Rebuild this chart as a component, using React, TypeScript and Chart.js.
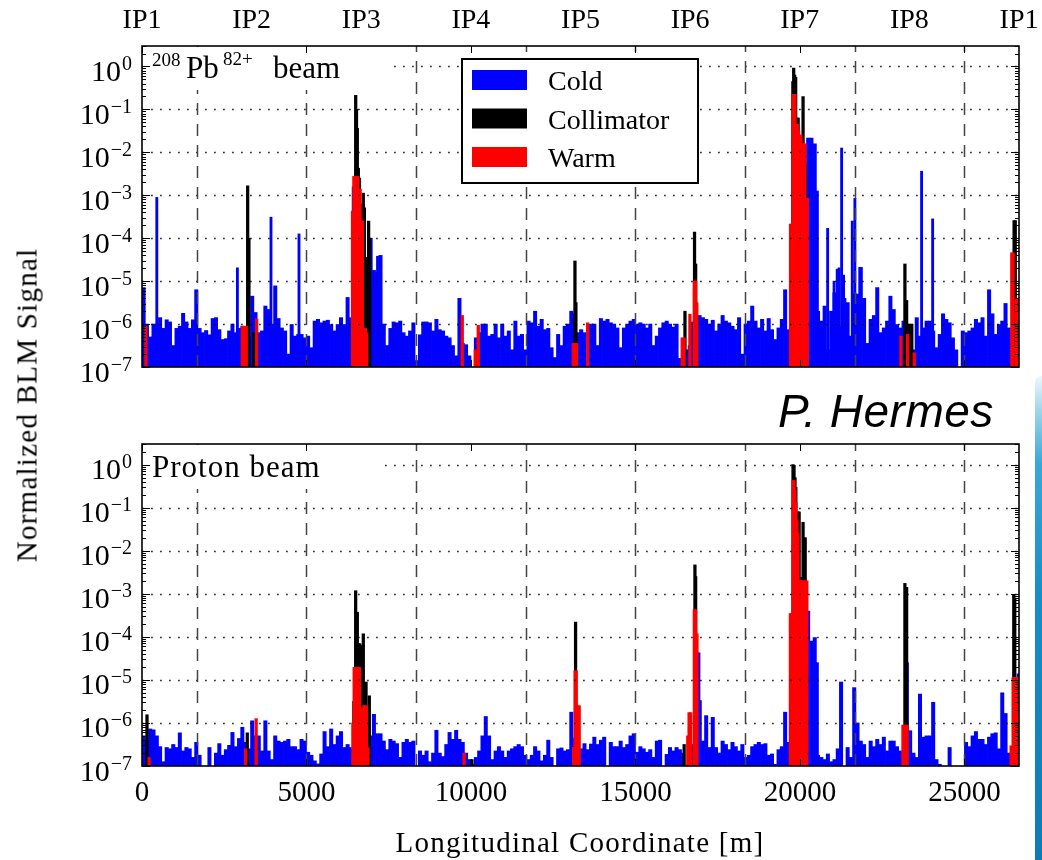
import React, { useEffect, useRef } from 'react';
import { Chart, registerables } from 'chart.js';

Chart.register(...registerables);

// ---------------- data ----------------
const RING_LENGTH = 26659; // m
const BIN_WIDTH = 100; // m, width of the baseline (cold) bins
const IP_POSITIONS = [0, 3332, 6665, 9997, 13330, 16662, 19994, 23327, 26659];
const IP_LABELS = ['IP1', 'IP2', 'IP3', 'IP4', 'IP5', 'IP6', 'IP7', 'IP8', 'IP1'];
const ARC_CENTRES = [1666, 4998, 8331, 11663, 14996, 18328, 21660, 24993];
const X_TICKS = [0, 5000, 10000, 15000, 20000, 25000];
const Y_DECADES = [-7, -6, -5, -4, -3, -2, -1, 0];
const Y_MIN = 1e-7;
const Y_MAX = 3;

// 208Pb82+ beam, cold BLMs, log10(signal) per 100 m bin (null = no signal)
const PB_COLD_LOG = [
  -5.15, -6.0, -6.3, -6.0, -6.0, -5.85, -6.1, -5.9, -5.95, -6.5,
  -6.1, -6.05, -5.75, -5.95, -6.1, -5.9, -5.2, -6.1, -6.2, -6.15,
  -6.25, -5.87, -5.85, -6.13, -6.36, -6.34, -6.16, -6.0, -6.2, -6.1,
  -6.05, -6.1, -6.3, -5.35, -5.73, -6.2, -6.16, -5.58, -5.66, -6.0,
  -5.11, -5.87, -6.09, -6.16, -6.7, -6.01, -6.28, -6.24, -6.24, -6.32,
  -6.28, -6.55, -5.93, -5.89, -5.97, -5.93, -5.91, -6.01, -6.16, -6.01,
  -5.85, -6.01, -5.38, -5.85, -6.2, -6.2, -6.2, -6.2, -6.2, -4.0,
  -4.75, -4.8, -4.4, -6.0, -6.5, -6.1, -5.95, -5.97, -5.93, -6.2,
  -6.28, -6.16, -5.97, -6.85, -6.25, -5.95, -5.95, -5.97, -6.16, -5.89,
  -6.13, -6.16, -6.28, -6.32, -6.5, -6.74, -5.4, -6.45, -6.48, -6.74,
  null, -6.32, -6.2, -6.0, -6.0, -6.28, -6.24, -6.0, -6.32, -6.0,
  -6.28, -6.16, -6.6, -5.93, -6.28, -6.24, -6.6, -5.93, -5.97, -5.7,
  -6.05, -5.89, -6.13, -6.1, -6.55, -6.78, -6.24, -6.5, -6.05, -6.0,
  -5.7, -5.76, -6.2, -6.13, -6.2, -6.25, -6.0, -6.0, -6.5, -5.87,
  -5.93, -5.89, -5.97, -6.0, -6.09, -6.55, -6.09, -6.0, -5.93, -5.89,
  -6.0, -5.97, -6.0, -6.09, -6.0, -6.5, -6.28, -6.09, -5.97, -5.93,
  -6.0, -6.07, -6.0, -6.8, -6.6, -6.6, -6.5, -5.95, -6.3, -5.8,
  -5.85, -5.89, -6.0, -5.91, -6.16, -6.0, -5.8, -5.93, -5.97, -6.05,
  -6.13, -5.85, -6.7, -6.0, -5.93, -5.58, -5.93, -6.09, -5.89, -6.16,
  -5.87, -6.13, -6.36, -6.09, -5.89, -5.2, -6.13, -6.3, -6.3, -6.3,
  -6.3, -6.3, -1.67, -1.67, -1.8, -5.7, -5.93, -5.58, -6.6, -5.7,
  -5.27, -4.72, -6.05, -5.4, -5.5, -6.28, -5.3, -5.3, -4.68, -5.4,
  -6.45, -5.89, -5.8, -5.15, -6.2, -6.09, -5.93, -5.35, -5.66, -6.01,
  -6.09, -5.93, -6.6, -6.6, -6.6, -5.85, -6.28, -6.09, -5.93, -5.93,
  -6.16, -6.55, -6.24, -5.76, -5.89, -5.97, -6.32, -6.6, null, -6.16,
  -6.2, -6.16, -6.09, -5.89, -5.97, -5.85, -6.28, -5.2, -5.76, -6.24,
  -6.01, -5.93, -5.52, -6.09, -6.16, -6.2, -6.0,
];
// isolated cold peaks [s (m), log10(signal)]
const PB_COLD_PEAKS = [
  [450, -3.05], [2900, -4.69], [3921, -3.51], [4772, -3.9], [6420, -2.8], [6945, -4.0],
  [7160, -4.42], [20530, -2.9], [20842, -3.77], [21037, -5.0], [21190, -4.69], [21267, -1.9],
  [21327, -4.86], [21590, -3.6], [21670, -3.07], [21820, -4.68], [23698, -2.44], [24034, -3.55],
];
const PB_COLLIMATOR = [
  [3212, -2.78], [3250, -4.0], [3400, -6.2], [3450, -6.3],
  [6400, -6.0], [6470, -3.0], [6496, -0.67], [6520, -1.0], [6545, -1.44], [6576, -2.37],
  [6610, -2.6], [6650, -3.2], [6690, -3.4], [6727, -2.95], [6760, -3.29], [6800, -4.46],
  [6840, -4.45], [6889, -3.6], [6920, -4.0],
  [13161, -4.53], [13190, -5.5], [16505, -5.7], [16796, -3.86], [16830, -4.6],
  [19785, -0.35], [19810, -0.04], [19840, -0.2], [19870, -0.25], [19910, -1.2], [19945, -1.2],
  [19990, -2.9], [20040, -2.9], [20095, -0.7], [20140, -2.05], [20170, -2.3],
  [23191, -4.6], [23243, -5.45], [23320, -6.0], [23400, -6.0], [26510, -3.59], [26545, -3.59],
];
const PB_WARM = [
  [120, -6.05], [3050, -6.05], [3120, -6.05], [3170, -6.05], [3486, -5.88],
  [6400, -3.37], [6440, -2.56], [6480, -2.56], [6520, -2.6], [6560, -2.56], [6600, -2.86],
  [6630, -2.86], [6670, -3.6], [6700, -3.6], [6750, -6.1], [6790, -6.1], [6830, -6.2],
  [9736, -5.8], [10130, -6.6], [10222, -6.03],
  [13110, -6.45], [13160, -6.45], [13210, -6.45], [13546, -5.97],
  [16420, -6.32], [16480, -6.32], [16655, -5.77], [16790, -5.0], [16830, -5.0], [16865, -5.5],
  [19715, -3.67], [19745, -3.67], [19790, -0.65], [19820, -0.65], [19850, -0.65], [19890, -1.35],
  [19925, -1.35], [19960, -1.5], [20000, -1.6], [20030, -1.6], [20070, -1.8], [20105, -1.8],
  [20150, -1.8], [20190, -3.07], [20225, -3.07],
  [23070, -6.28], [23273, -6.24], [23474, -6.67],
  [26440, -4.34], [26480, -4.34], [26580, -5.4], [26630, -5.4],
];

// Proton beam
const P_COLD_LOG = [
  -6.3, -6.4, -6.14, -6.16, -6.3, -6.55, -6.9, -6.57, -6.6, -6.5,
  -6.57, -6.23, -6.65, -6.57, -6.6, -6.8, -6.45, -6.75, null, null,
  -6.57, null, -6.7, -6.48, -6.75, -6.62, -6.52, -6.22, -6.55, -6.36,
  -6.1, -6.45, -6.6, -5.95, -6.3, -6.3, -6.65, -5.95, -6.65, -6.85,
  -6.3, -6.42, -6.45, -6.42, -6.38, -6.55, -6.55, -6.62, -6.38, -6.42,
  -6.68, -6.75, -6.88, -6.95, -6.72, -6.2, -6.55, -6.14, -6.5, -6.3,
  -6.2, -6.57, -6.5, -6.57, -6.6, -6.6, -6.6, -6.6, -6.3, -6.3,
  -5.8, -6.25, -6.25, -6.42, -6.62, -6.38, -6.42, -6.48, -6.8, -6.45,
  -6.38, -6.45, -6.42, null, -6.65, -6.75, -6.65, -6.9, -6.7, -6.17,
  -6.7, -6.78, -6.5, -6.22, -6.38, -6.17, -6.38, -6.45, -6.7, -6.85,
  -6.96, -6.8, -6.65, -6.3, -5.85, -6.3, -6.85, -6.65, -6.55, -6.65,
  -6.8, -6.65, -6.6, -6.55, -6.5, -6.55, -6.75, -6.85, -6.75, -6.55,
  -6.65, -6.88, -6.75, -6.4, -6.8, null, -6.6, -6.58, -6.65, -6.62,
  -5.75, -6.35, -6.6, -6.6, -6.48, -6.62, -6.49, -6.33, -6.5, -6.4,
  -6.33, null, -6.45, -6.55, -6.55, -6.42, -6.57, -6.5, -6.3, -6.25,
  -6.68, -6.55, -6.6, -6.68, -6.62, -6.8, -6.42, -6.4, null, -6.73,
  -6.57, -6.65, -6.57, -6.62, -6.7, null, -6.7, -6.5, -4.35, -5.48,
  -6.42, -5.83, -6.57, -5.87, -6.57, -6.7, -6.42, -6.5, -6.62, -6.45,
  -6.55, -6.65, -6.5, -6.8, -6.75, -6.55, -6.5, -6.45, -6.5, -6.48,
  -6.75, -6.72, -6.96, -6.62, -6.55, -5.75, -6.45, -6.5, -6.5, -6.5,
  -6.5, -6.5, -3.4, -4.1, -4.02, -6.75, -6.8, -6.85, -6.72, -6.9,
  -6.85, -6.6, -5.05, null, -6.57, -6.8, -5.18, -6.0, -6.42, -6.5,
  -6.8, -6.42, -6.55, -6.38, -6.5, -6.33, -6.65, -6.42, -6.42, -6.55,
  -6.65, -6.9, -4.6, -6.18, -6.7, -6.8, -5.33, -6.33, -6.3, -6.3,
  -5.52, -6.85, -6.96, null, null, -6.57, null, null, null, null,
  -6.45, -6.55, -6.3, -6.2, -6.38, -6.38, -6.5, -6.33, -6.25, -6.23,
  -6.6, -5.3, -5.78, -6.7, -6.6, -6.6, -4.86,
];
const P_COLD_PEAKS = [[16930, -4.37], [16960, -5.49], [20530, -4.6], [23230, -4.86]];
const P_COLLIMATOR = [
  [152, -5.81], [3200, -6.23],
  [6440, -5.5], [6495, -2.93], [6545, -3.43], [6580, -4.16], [6620, -4.16], [6660, -4.2],
  [6727, -3.93], [6778, -5.06], [6810, -5.05], [6860, -5.6], [6910, -5.37],
  [10030, -6.85], [13180, -3.66], [16480, -6.5], [16808, -2.33], [16830, -2.6],
  [19790, 0.0], [19820, -0.02], [19850, -0.3], [19875, -0.53], [19910, -1.1], [19945, -1.1],
  [19975, -1.1], [20020, -2.62], [20060, -2.62], [20095, -1.34], [20130, -1.7], [20160, -1.7],
  [23191, -2.76], [23243, -2.85], [26500, -3.03], [26530, -3.1],
];
const P_WARM = [
  [215, -6.8], [3150, -6.6], [3470, -5.9],
  [6410, -6.0], [6450, -4.71], [6490, -4.71], [6530, -4.71], [6570, -4.71], [6610, -4.71],
  [6650, -5.67], [6690, -5.67], [6740, -5.6], [6790, -5.6], [6820, -5.6], [6870, -6.57],
  [9790, -6.7], [13120, -6.57], [13165, -4.79], [13200, -4.79], [13250, -5.6], [13290, -5.6],
  [16590, -6.3], [16630, -5.76], [16680, -5.76], [16790, -3.37], [16830, -3.37], [16870, -3.93],
  [19710, -3.46], [19750, -3.46], [19790, -0.37], [19820, -0.37], [19850, -0.6], [19880, -0.9],
  [19910, -1.3], [19940, -1.6], [19975, -2.7], [20010, -2.7], [20050, -2.7], [20090, -2.7],
  [20130, -2.7], [20170, -2.7], [20210, -2.7],
  [23131, -6.05], [23170, -6.05], [23260, -6.05],
  [26420, -6.53], [26480, -4.95], [26520, -4.95], [26560, -4.95], [26600, -4.95], [26640, -4.95],
];

const LEGEND_ITEMS = [
  { label: 'Cold', color: '#0000ff' },
  { label: 'Collimator', color: '#000000' },
  { label: 'Warm', color: '#ff0000' },
];

// ---------------- helpers ----------------
const SERIF = '"Liberation Serif", "Times New Roman", serif';

const pairsToBars = (pairs: number[][]) => pairs.map(([s, e]) => ({ x: s, y: Math.pow(10, e) }));
const binsToBars = (logs: (number | null)[]) => {
  const out: { x: number; y: number }[] = [];
  logs.forEach((e, i) => {
    if (e !== null) out.push({ x: (i + 0.5) * BIN_WIDTH, y: Math.pow(10, e) });
  });
  return out;
};

type Panel = 'pb' | 'p';

function decorPlugin(panel: Panel) {
  return {
    id: 'blmDecor',
    afterDatasetsDraw(chart: any) {
      const { ctx, chartArea: a } = chart;
      const xs = chart.scales.x;
      const ys = chart.scales.y;
      ctx.save();
      // dotted horizontal grid at decades
      ctx.strokeStyle = 'rgba(0,0,0,0.8)';
      ctx.lineWidth = 1.3;
      ctx.setLineDash([1.8, 7.2]);
      Y_DECADES.forEach((k) => {
        if (k === -7) return;
        const py = Math.round(ys.getPixelForValue(Math.pow(10, k))) + 0.5;
        ctx.beginPath();
        ctx.moveTo(a.left, py);
        ctx.lineTo(a.right, py);
        ctx.stroke();
      });
      // dashed vertical lines at arc centres
      ctx.strokeStyle = '#444';
      ctx.lineWidth = 1.5;
      ctx.setLineDash([12, 9]);
      ARC_CENTRES.forEach((s) => {
        const px = Math.round(xs.getPixelForValue(s)) + 0.5;
        ctx.beginPath();
        ctx.moveTo(px, a.bottom);
        ctx.lineTo(px, a.top);
        ctx.stroke();
      });
      ctx.restore();
    },
    afterDraw(chart: any) {
      const { ctx, chartArea: a } = chart;
      const xs = chart.scales.x;
      const ys = chart.scales.y;
      ctx.save();
      ctx.setLineDash([]);
      // panel label box
      ctx.fillStyle = '#ffffff';
      if (panel === 'pb') ctx.fillRect(a.left + 1, a.top + 1, 247, 43);
      else ctx.fillRect(a.left + 1, a.top + 1, 240, 44);
      ctx.fillStyle = '#000';
      ctx.textAlign = 'left';
      ctx.textBaseline = 'alphabetic';
      if (panel === 'pb') {
        ctx.font = `19px ${SERIF}`;
        ctx.fillText('208', a.left + 10, a.top + 20);
        ctx.font = `31px ${SERIF}`;
        ctx.fillText('Pb', a.left + 44, a.top + 32);
        ctx.font = `19px ${SERIF}`;
        ctx.fillText('82+', a.left + 81, a.top + 19);
        ctx.font = `31px ${SERIF}`;
        ctx.fillText('beam', a.left + 131, a.top + 32);
      } else {
        ctx.font = `31px ${SERIF}`;
        ctx.letterSpacing = '1px';
        ctx.fillText('Proton beam', a.left + 10, a.top + 32.7);
        ctx.letterSpacing = '0px';
      }
      // legend
      if (panel === 'pb') {
        const lx = a.left + 320;
        const ly = a.top + 13;
        ctx.fillStyle = '#fff';
        ctx.fillRect(lx, ly, 236, 124);
        ctx.strokeStyle = '#000';
        ctx.lineWidth = 2;
        ctx.strokeRect(lx, ly, 236, 124);
        ctx.font = `28px ${SERIF}`;
        LEGEND_ITEMS.forEach((it, i) => {
          const ry = ly + 11 + i * 38.5;
          ctx.fillStyle = it.color;
          ctx.fillRect(lx + 10, ry, 55, 20);
          ctx.fillStyle = '#000';
          ctx.fillText(it.label, lx + 86, ry + 20);
        });
      }
      // ticks (inside)
      ctx.strokeStyle = '#000';
      ctx.lineWidth = 1;
      Y_DECADES.forEach((k) => {
        for (let j = 1; j <= 9; j++) {
          const v = j * Math.pow(10, k);
          if (v > Y_MAX || v < Y_MIN) continue;
          const py = Math.round(ys.getPixelForValue(v)) + 0.5;
          const len = j === 1 ? 8 : 4;
          ctx.beginPath();
          ctx.moveTo(a.left, py);
          ctx.lineTo(a.left + len, py);
          ctx.moveTo(a.right, py);
          ctx.lineTo(a.right - len, py);
          ctx.stroke();
        }
      });
      X_TICKS.forEach((s) => {
        const px = Math.round(xs.getPixelForValue(s)) + 0.5;
        ctx.beginPath();
        ctx.moveTo(px, a.bottom);
        ctx.lineTo(px, a.bottom - 7);
        ctx.moveTo(px, a.top);
        ctx.lineTo(px, a.top + 7);
        ctx.stroke();
      });
      // frame
      ctx.lineWidth = 1.6;
      ctx.strokeRect(a.left, a.top, a.right - a.left, a.bottom - a.top);
      // y tick labels 10^k
      ctx.fillStyle = '#000';
      Y_DECADES.forEach((k) => {
        const py = ys.getPixelForValue(Math.pow(10, k));
        const exp = k === 0 ? '0' : '\u2212' + String(-k);
        ctx.font = `20px ${SERIF}`;
        const ew = ctx.measureText(exp).width;
        ctx.textAlign = 'left';
        ctx.fillText(exp, a.left - 10 - ew, py + 3.5);
        ctx.font = `30px ${SERIF}`;
        ctx.textAlign = 'right';
        ctx.fillText('10', a.left - 11 - ew, py + 14.5);
      });
      // x labels
      ctx.textAlign = 'center';
      if (panel === 'pb') {
        ctx.font = `28px ${SERIF}`;
        IP_POSITIONS.forEach((s, i) => {
          ctx.fillText(IP_LABELS[i], xs.getPixelForValue(s), a.top - 18);
        });
      } else {
        ctx.font = `29px ${SERIF}`;
        X_TICKS.forEach((s) => {
          ctx.fillText(String(s), xs.getPixelForValue(s), a.bottom + 34.5);
        });
      }
      ctx.restore();
    },
  };
}

function buildConfig(panel: Panel, padding: any): any {
  const cold = panel === 'pb' ? PB_COLD_LOG : P_COLD_LOG;
  const peaks = panel === 'pb' ? PB_COLD_PEAKS : P_COLD_PEAKS;
  const coll = panel === 'pb' ? PB_COLLIMATOR : P_COLLIMATOR;
  const warm = panel === 'pb' ? PB_WARM : P_WARM;
  const common = { stack: 'blm', borderWidth: 0, clip: 0 };
  return {
    type: 'bar',
    data: {
      datasets: [
        { ...common, label: 'Warm', data: pairsToBars(warm), backgroundColor: '#ff0000', barThickness: 2.6, order: 0 },
        { ...common, label: 'Collimator', data: pairsToBars(coll), backgroundColor: '#000000', barThickness: 2.6, order: 1 },
        { ...common, label: 'Cold peaks', data: pairsToBars(peaks), backgroundColor: '#0000ff', barThickness: 2.2, order: 2 },
        { ...common, label: 'Cold', data: binsToBars(cold), backgroundColor: '#0000ff', barThickness: 3.35, order: 3 },
      ],
    },
    options: {
      responsive: false,
      animation: false,
      events: [],
      layout: { padding },
      plugins: { legend: { display: false }, tooltip: { enabled: false } },
      scales: {
        x: { type: 'linear', min: 0, max: RING_LENGTH, offset: false, display: false },
        y: { type: 'logarithmic', min: Y_MIN, max: Y_MAX, stacked: false, display: false },
      },
    },
    plugins: [decorPlugin(panel)],
  };
}

export default function App() {
  const topRef = useRef<HTMLCanvasElement>(null);
  const botRef = useRef<HTMLCanvasElement>(null);

  useEffect(() => {
    const c1 = new Chart(topRef.current as HTMLCanvasElement, buildConfig('pb', { left: 142, right: 23, top: 46, bottom: 33 }));
    const c2 = new Chart(botRef.current as HTMLCanvasElement, buildConfig('p', { left: 142, right: 23, top: 44, bottom: 94 }));
    return () => {
      c1.destroy();
      c2.destroy();
    };
  }, []);

  const titleStyle: React.CSSProperties = {
    position: 'absolute',
    fontFamily: SERIF,
    fontSize: 29,
    lineHeight: '29px',
    letterSpacing: '1.25px',
    whiteSpace: 'nowrap',
    color: '#000',
  };

  return (
    <div style={{ position: 'absolute', left: 0, top: 0, width: 1042, height: 860, background: '#fff', overflow: 'hidden' }}>
      <canvas ref={topRef} width={1042} height={400} style={{ position: 'absolute', left: 0, top: 0, width: 1042, height: 400 }} />
      <canvas ref={botRef} width={1042} height={460} style={{ position: 'absolute', left: 0, top: 400, width: 1042, height: 460 }} />
      <div style={{ ...titleStyle, left: 27, top: 405, transform: 'translate(-50%, -50%) rotate(-90deg)' }}>Normalized BLM Signal</div>
      <div style={{ ...titleStyle, left: 580, top: 842, transform: 'translate(-50%, -50%)' }}>Longitudinal Coordinate [m]</div>
      <div
        style={{
          position: 'absolute',
          left: 778,
          top: 388,
          fontFamily: '"Liberation Sans", Arial, sans-serif',
          fontStyle: 'italic',
          fontSize: 46,
          lineHeight: '46px',
          letterSpacing: '0.5px',
          whiteSpace: 'nowrap',
          color: '#000',
        }}
      >
        P. Hermes
      </div>
      <div
        style={{
          position: 'absolute',
          left: 1035,
          top: 376,
          width: 7,
          height: 484,
          borderTopLeftRadius: 6,
          background: 'linear-gradient(to bottom, #eef8fc 0%, #9fd6ec 7%, #3aa8d6 18%, #168fc6 45%, #0c7cb4 100%)',
        }}
      />
    </div>
  );
}
